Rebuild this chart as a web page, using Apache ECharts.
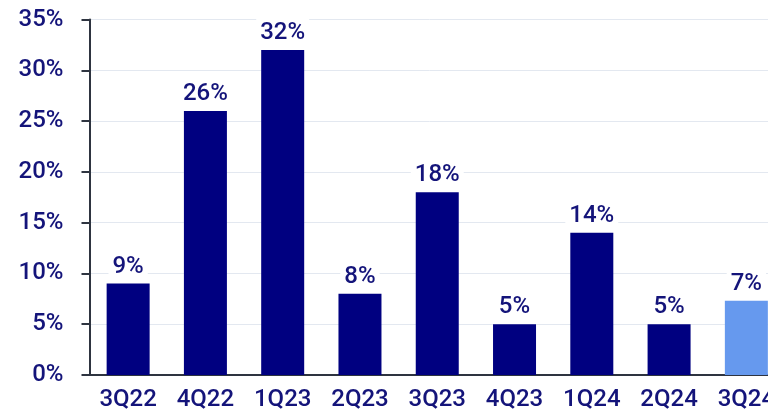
<!DOCTYPE html>
<html>
<head>
<meta charset="utf-8">
<script src="https://cdn.jsdelivr.net/npm/echarts@6/dist/echarts.min.js"></script>
<style>
  html, body { margin: 0; padding: 0; background: #ffffff; }
  #chart { width: 768px; height: 414px; }
</style>
</head>
<body>
<div id="chart"></div>
<script>
// Quarterly growth rates (%)
const quarters = ['3Q22', '4Q22', '1Q23', '2Q23', '3Q23', '4Q23', '1Q24', '2Q24', '3Q24'];
const growth = [9, 26, 32, 8, 18, 5, 14, 5, 7.3];
const yTicks = { min: 0, max: 35, step: 5 };

const navy = '#000080';
const highlight = '#6699ee';
const textColor = '#14147a';
const font = 'Roboto, "Liberation Sans", sans-serif';
const weight = 500;

const chart = echarts.init(document.getElementById('chart'));
chart.setOption({
  animation: false,
  // the plot runs past the right edge, so the last category is clipped
  grid: { left: 89.5, width: 695.5, top: 19.5, bottom: 39, outerBoundsMode: 'none', containLabel: false },
  xAxis: {
    type: 'category',
    data: quarters,
    axisLine: { lineStyle: { color: '#2e3440', width: 2 } },
    axisTick: { show: false },
    axisLabel: {
      color: textColor, fontFamily: font, fontSize: 24, fontWeight: weight, margin: 13
    }
  },
  yAxis: {
    type: 'value',
    min: yTicks.min,
    max: yTicks.max,
    interval: yTicks.step,
    axisLine: { show: true, lineStyle: { color: '#2e3440', width: 2 } },
    axisTick: { show: true, length: 8, lineStyle: { color: '#2e3440', width: 2 } },
    axisLabel: {
      color: textColor, fontFamily: font, fontSize: 24, fontWeight: weight, margin: 26,
      formatter: v => v + '%'
    },
    splitLine: { lineStyle: { color: '#e3e8f0', width: 1 } }
  },
  series: [{
    type: 'bar',
    data: growth.map((v, i) => ({
      value: v,
      itemStyle: { color: i === growth.length - 1 ? highlight : navy }
    })),
    barWidth: 43,
    label: {
      show: true,
      position: 'top',
      distance: 3,
      color: textColor,
      fontFamily: font,
      fontSize: 24,
      fontWeight: weight,
      backgroundColor: '#ffffff',
      padding: [2, 4, 2, 4],
      formatter: p => Math.round(p.value) + '%'
    }
  }]
});
</script>
</body>
</html>
